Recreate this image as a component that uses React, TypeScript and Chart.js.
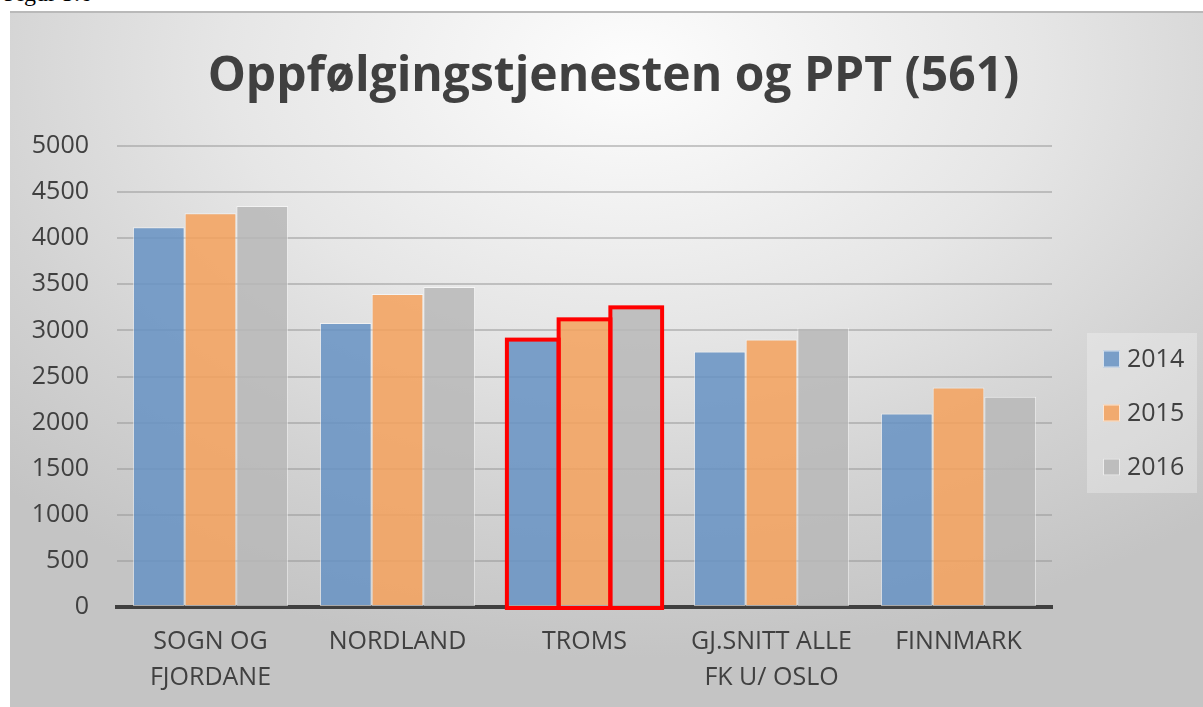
import React, { useEffect, useRef } from "react";
import { Chart, registerables } from "chart.js";

Chart.register(...registerables);

// ---- data ----
const categories: string[][] = [
  ["SOGN OG", "FJORDANE"],
  ["NORDLAND"],
  ["TROMS"],
  ["GJ.SNITT ALLE", "FK U/ OSLO"],
  ["FINNMARK"],
];
const seriesLabels = ["2014", "2015", "2016"];
const values2014 = [4120, 3080, 2900, 2770, 2100];
const values2015 = [4270, 3395, 3120, 2900, 2380];
const values2016 = [4350, 3470, 3250, 3030, 2280];
const yMin = 0;
const yMax = 5000;
const yStep = 500;
const highlightIndex = 2; // TROMS
const titleText = "Oppfølgingstjenesten og PPT (561)";
const captionText = "Figur 5.6";

const seriesColors = [
  "rgba(104,147,196,0.86)",
  "rgba(244,162,93,0.86)",
  "rgba(184,184,184,0.86)",
];

const FONT = '"Open Sans", "DejaVu Sans", sans-serif';
const TEXT = "#404040";

const legendPlugin = {
  id: "boxLegend",
  afterDraw(chart: any) {
    const { ctx, chartArea } = chart;
    const bx = chartArea.right + 35;
    const by = 321;
    ctx.save();
    ctx.fillStyle = "rgba(255,255,255,0.28)";
    ctx.fillRect(bx, by, 110, 160);
    chart.data.datasets.forEach((ds: any, i: number) => {
      const cy = by + 26 + i * 54;
      ctx.fillStyle = ds.backgroundColor;
      ctx.fillRect(bx + 16, cy - 8.5, 17, 17);
      ctx.strokeStyle = "rgba(255,255,255,0.7)";
      ctx.lineWidth = 1;
      ctx.strokeRect(bx + 16.5, cy - 8, 16, 16);
      ctx.fillStyle = TEXT;
      ctx.font = `25px ${FONT}`;
      ctx.textBaseline = "middle";
      ctx.textAlign = "left";
      ctx.fillText(ds.label, bx + 40, cy + 1);
    });
    ctx.restore();
  },
};

// red outline around the highlighted category's bars (centred stroke, like the original)
const highlightPlugin = {
  id: "highlightOutline",
  afterDatasetsDraw(chart: any) {
    const { ctx } = chart;
    ctx.save();
    ctx.strokeStyle = "#ff0000";
    ctx.lineWidth = 4;
    ctx.lineJoin = "miter";
    chart.data.datasets.forEach((_: any, i: number) => {
      const bar = chart.getDatasetMeta(i).data[highlightIndex];
      if (!bar) return;
      const { x, y, base, width } = bar.getProps(["x", "y", "base", "width"], true);
      ctx.strokeRect(x - width / 2, y, width, base - y + 2);
    });
    ctx.restore();
  },
};

export default function App() {
  const ref = useRef<HTMLCanvasElement | null>(null);

  useEffect(() => {
    if (!ref.current) return;
    const seriesValues = [values2014, values2015, values2016];
    const chart = new Chart(ref.current, {
      type: "bar",
      data: {
        labels: categories,
        datasets: seriesLabels.map((label, i) => ({
          label,
          data: seriesValues[i],
          backgroundColor: seriesColors[i],
          borderColor: "rgba(255,255,255,0.55)",
          borderWidth: 1,
          borderSkipped: false,
          categoryPercentage: 0.83,
          barPercentage: 1,
          yAxisID: "y",
        })),
      },
      options: {
        responsive: false,
        animation: false,
        devicePixelRatio: 1,
        layout: { padding: { left: 14, right: 0, top: 0, bottom: 0 } },
        plugins: {
          legend: { display: false },
          tooltip: { enabled: false },
          title: {
            display: true,
            text: titleText,
            color: TEXT,
            font: { family: FONT, size: 48, weight: "bold", lineHeight: 1.2 },
            padding: { top: 37, bottom: 39.4 },
          },
        },
        scales: {
          x: {
            z: 1,
            grid: { display: false, drawTicks: false },
            border: { display: true, color: "#404040", width: 4 },
            ticks: {
              color: TEXT,
              font: { family: FONT, size: 25, lineHeight: 1.44 },
              padding: 17,
              maxRotation: 0,
              autoSkip: false,
            },
            afterFit: (s: any) => {
              s.height = 100;
            },
          },
          y: {
            min: yMin,
            max: yMax,
            grid: { color: "rgba(150,150,150,0.5)", lineWidth: 2, drawTicks: false },
            border: { display: false },
            ticks: {
              stepSize: yStep,
              color: TEXT,
              font: { family: FONT, size: 25 },
              padding: 28,
              callback: (v: any) => String(v),
            },
            afterFit: (s: any) => {
              s.width = 93;
            },
          },
          legendSpace: {
            type: "linear",
            position: "right",
            display: true,
            grid: { display: false, drawTicks: false },
            border: { display: false },
            ticks: { display: false },
            afterFit: (s: any) => {
              s.width = 151;
            },
          },
        },
      },
      plugins: [highlightPlugin, legendPlugin],
    } as any);
    return () => chart.destroy();
  }, []);

  return (
    <div style={{ position: "absolute", left: 0, top: 0, width: 1203, height: 707, background: "#fff", overflow: "hidden" }}>
      <div
        style={{
          position: "absolute",
          left: 4,
          top: -20,
          fontFamily: '"Liberation Serif", serif',
          fontSize: 24,
          color: "#000",
          whiteSpace: "nowrap",
        }}
      >
        {captionText}
      </div>
      <div
        style={{
          position: "absolute",
          left: 10,
          top: 12,
          width: 1193,
          height: 695,
          background:
            "radial-gradient(ellipse 75% 85% at 52% 8%, #fdfdfd 0%, #e6e6e6 45%, #d2d2d2 75%, #c4c4c4 100%)",
        }}
      >
        <canvas ref={ref} width={1193} height={695} style={{ display: "block", width: 1193, height: 695 }} />
        <div style={{ position: "absolute", left: 0, top: -1, width: 1193, height: 2, background: "#b9b9b9" }} />
      </div>
    </div>
  );
}
